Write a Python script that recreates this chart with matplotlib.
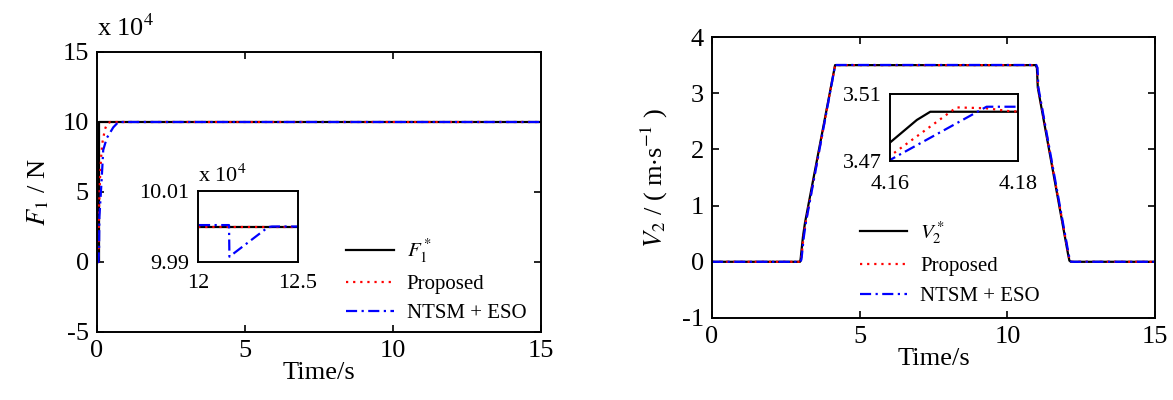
import numpy as np
import matplotlib
matplotlib.use('Agg')
import matplotlib.pyplot as plt

plt.rcParams['font.family'] = ['Liberation Serif', 'DejaVu Serif']
plt.rcParams['mathtext.fontset'] = 'stix'
plt.rcParams['axes.unicode_minus'] = False

# ---- Left panel : F1 (units of 1e4 N) ----
t_f_ref = [0, 0.08, 0.08, 15]
f_ref = [0, 0, 10.0, 10.0]

t_f_prop = [0, 0.05, 0.07, 0.10, 0.135, 0.18, 0.27, 0.35, 0.45, 15]
f_prop = [0, 0, 3.9, 5.9, 7.4, 8.5, 9.5, 9.9, 10.0, 10.0]

t_f_ntsm = [0, 0.05, 0.07, 0.08, 0.135, 0.18, 0.21, 0.33, 0.55, 0.7, 0.85, 1.0,
            12.155, 12.157, 12.35, 12.37, 15]
f_ntsm = [0, 0, 1.0, 3.2, 5.1, 6.8, 8.0, 8.85, 9.62, 9.95, 10.0, 10.0004,
          10.0004, 9.9915, 9.9998, 10.0, 10.0]

# ---- Right panel : V2 (m/s) ----
t_v_ref = [0, 2.98, 3.0, 3.08, 3.15, 4.16, 4.1642, 4.1663, 10.96, 11.0, 11.03,
           12.05, 12.1, 12.15, 15]
v_ref = [0, 0, 0.05, 0.45, 0.7, 3.481, 3.4945, 3.4994, 3.4994, 3.45, 3.1,
         0.15, 0.02, 0, 0]

t_v_prop = [0, 2.99, 3.02, 3.10, 3.17, 4.16, 4.1704, 4.175, 4.179, 10.97, 11.01,
            11.04, 12.06, 12.11, 12.16, 15]
v_prop = [0, 0, 0.05, 0.45, 0.7, 3.473, 3.502, 3.5015, 3.4996, 3.4996, 3.45,
          3.1, 0.15, 0.02, 0, 0]

t_v_ntsm = [0, 3.0, 3.03, 3.11, 3.18, 4.16, 4.1751, 10.98, 11.02, 11.05, 12.07,
            12.12, 12.17, 15]
v_ntsm = [0, 0, 0.05, 0.45, 0.7, 3.4706, 3.5024, 3.5024, 3.45, 3.1, 0.15,
          0.02, 0, 0]

lw = 1.6
blk = dict(color='k', lw=lw, ls='-')
red = dict(color='#ff0000', lw=lw, ls=(0, (1, 2.2)))
blu = dict(color='#0000ff', lw=lw, ls=(0, (5, 2, 1, 2)))
fs = 19


def style(ax, size=fs):
    for s in ax.spines.values():
        s.set_linewidth(1.4)
    ax.tick_params(direction='in', top=True, right=True, length=5,
                   width=1.2, labelsize=size, pad=6)


fig = plt.figure(figsize=(11.73, 4.0), dpi=100)

# left main
ax1 = fig.add_axes([0.0827, 0.17, 0.3785, 0.70])
ax1.plot(t_f_ref, f_ref, label='$F_1^*$', **blk)
ax1.plot(t_f_prop, f_prop, label='Proposed', **red)
ax1.plot(t_f_ntsm, f_ntsm, label='NTSM + ESO', **blu)
ax1.set_xlim(0, 15)
ax1.set_ylim(-5, 15)
ax1.set_xticks([0, 5, 10, 15])
ax1.set_yticks([-5, 0, 5, 10, 15])
style(ax1)
ax1.set_xlabel('Time/s', fontsize=fs, labelpad=0)
ax1.set_ylabel('$F_1$ / N', fontsize=fs, labelpad=8)
ax1.text(0.0, 1.04, 'x 10$^4$', transform=ax1.transAxes, fontsize=fs,
         ha='left', va='bottom')
ax1.legend(loc='lower right', bbox_to_anchor=(1.0, -0.02), frameon=False,
           fontsize=15, handlelength=2.3, handletextpad=0.6,
           labelspacing=0.45, borderaxespad=0.3)

# left inset
ai1 = fig.add_axes([0.1688, 0.345, 0.0853, 0.1775])
ai1.plot(t_f_ref, f_ref, **blk)
ai1.plot(t_f_prop, f_prop, **red)
ai1.plot(t_f_ntsm, f_ntsm, **blu)
ai1.set_xlim(12, 12.5)
ai1.set_ylim(9.99, 10.01)
ai1.set_xticks([12, 12.5])
ai1.set_xticklabels(['12', '12.5'])
ai1.set_yticks([9.99, 10.01])
ai1.set_yticklabels(['9.99', '10.01'])
style(ai1, 16)
ai1.tick_params(length=0)
ai1.tick_params(axis='x', pad=9)
ai1.text(0.0, 1.05, 'x 10$^4$', transform=ai1.transAxes, fontsize=16,
         ha='left', va='bottom')

# right main
ax2 = fig.add_axes([0.607, 0.205, 0.3777, 0.7025])
ax2.plot(t_v_ref, v_ref, label='$V_2^*$', **blk)
ax2.plot(t_v_prop, v_prop, label='Proposed', **red)
ax2.plot(t_v_ntsm, v_ntsm, label='NTSM + ESO', **blu)
ax2.set_xlim(0, 15)
ax2.set_ylim(-1, 4)
ax2.set_xticks([0, 5, 10, 15])
ax2.set_yticks([-1, 0, 1, 2, 3, 4])
style(ax2)
ax2.set_xlabel('Time/s', fontsize=fs, labelpad=0)
ax2.set_ylabel('$V_2$ / ( m$\\cdot$s$^{-1}$ )', fontsize=fs, labelpad=8)
ax2.legend(loc='lower left', bbox_to_anchor=(0.3, -0.01), frameon=False,
           fontsize=15, handlelength=2.3, handletextpad=0.6,
           labelspacing=0.5, borderaxespad=0.3)

# right inset
ai2 = fig.add_axes([0.7587, 0.5975, 0.1091, 0.1675])
ai2.plot(t_v_ref, v_ref, **blk)
ai2.plot(t_v_prop, v_prop, **red)
ai2.plot(t_v_ntsm, v_ntsm, **blu)
ai2.set_xlim(4.16, 4.18)
ai2.set_ylim(3.47, 3.51)
ai2.set_xticks([4.16, 4.18])
ai2.set_xticklabels(['4.16', '4.18'])
ai2.set_yticks([3.47, 3.51])
ai2.set_yticklabels(['3.47', '3.51'])
style(ai2, 16)
ai2.tick_params(length=0)
ai2.tick_params(axis='x', pad=10)

fig.savefig('out.png', dpi=100)
